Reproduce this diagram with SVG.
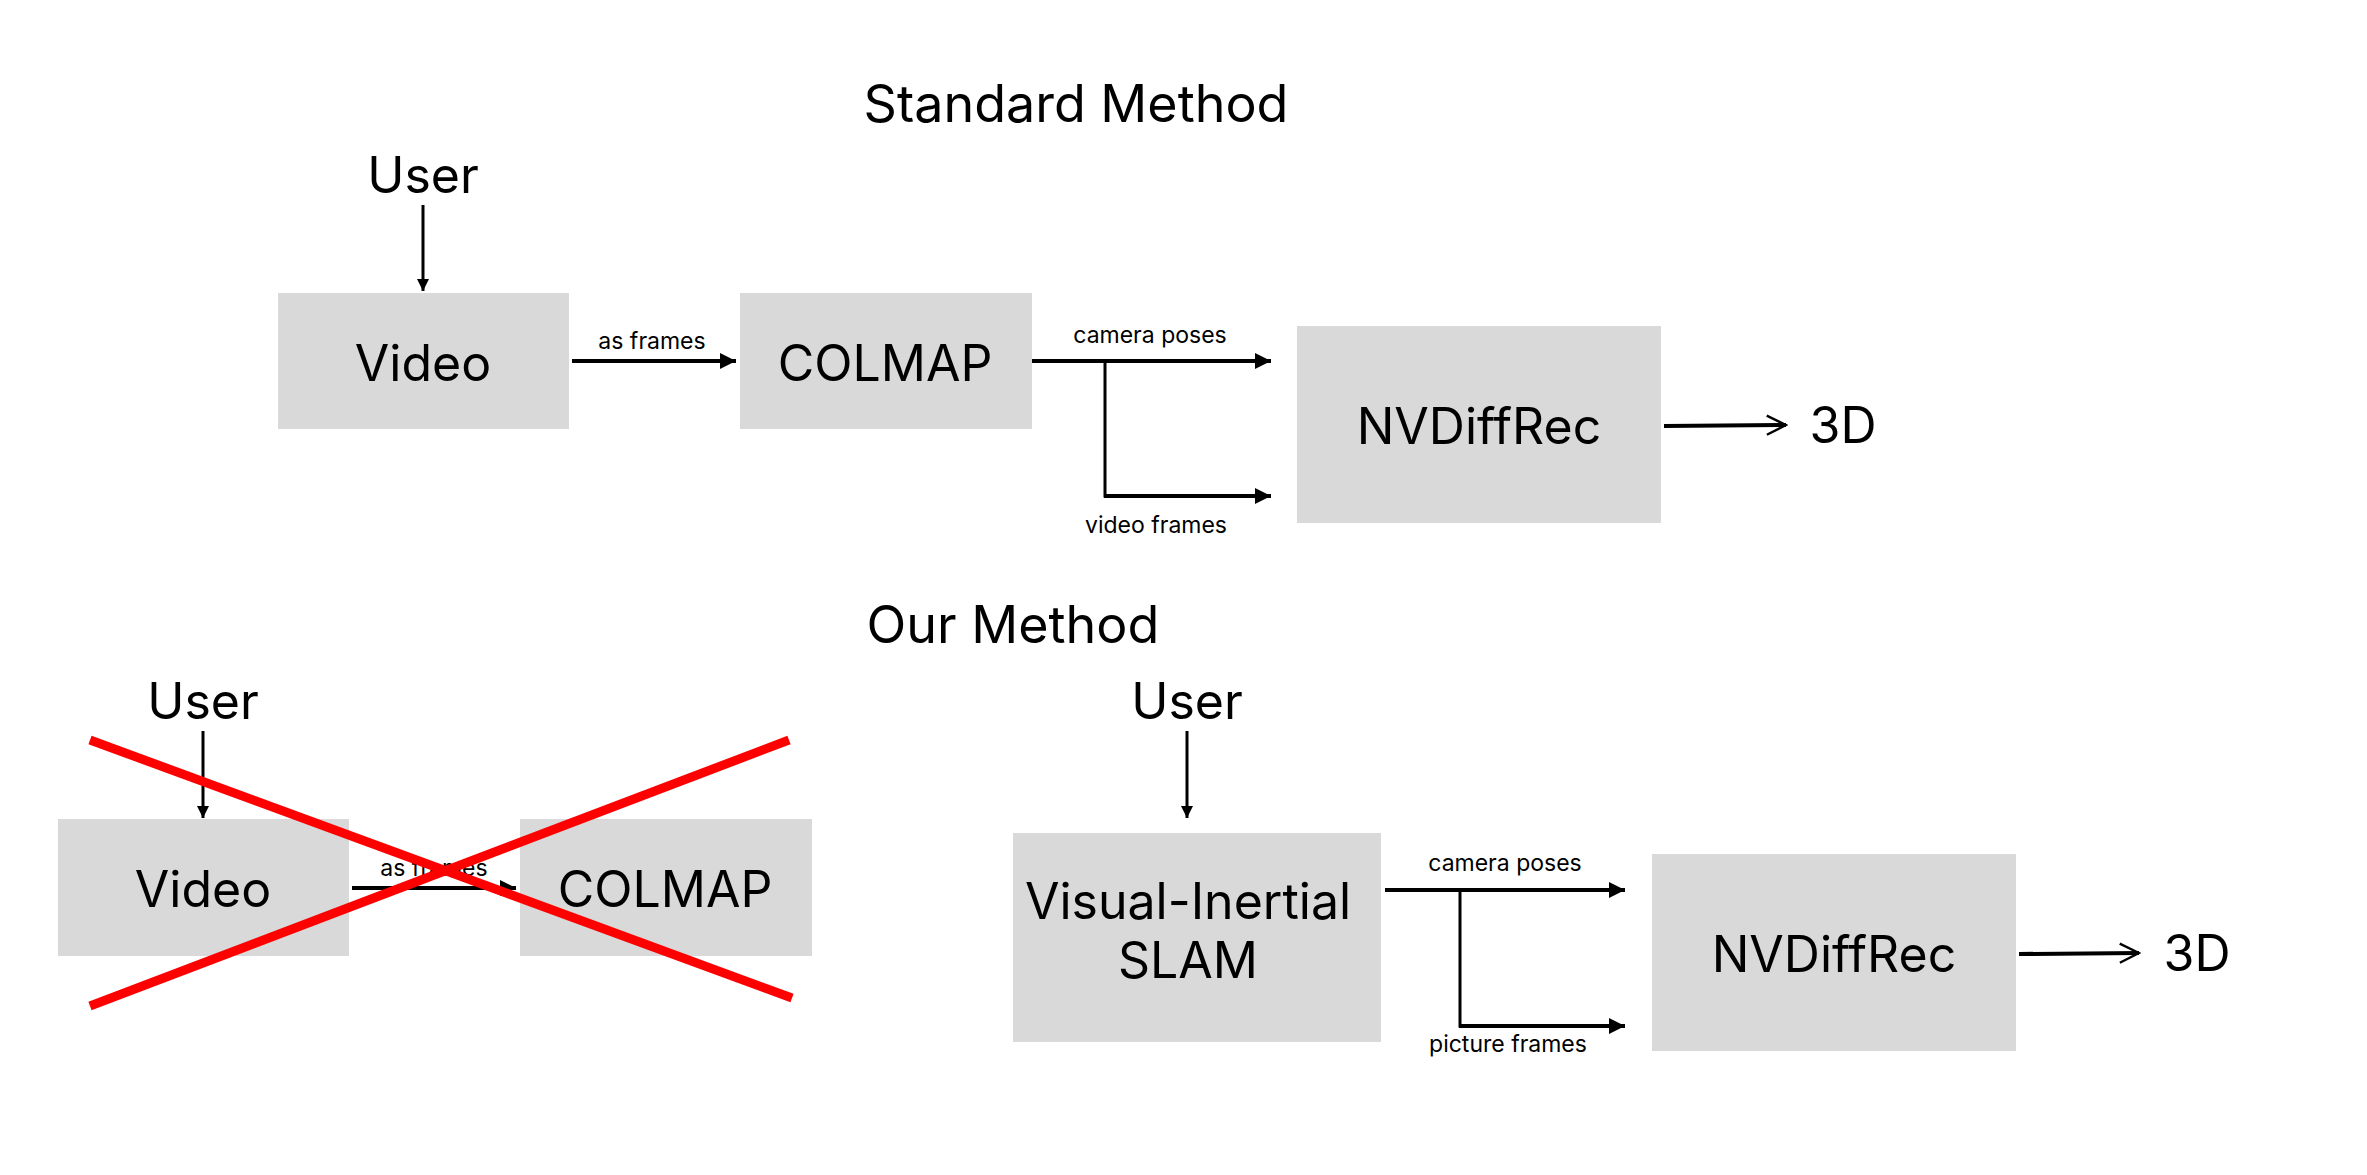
<svg xmlns="http://www.w3.org/2000/svg" width="2367" height="1175" viewBox="0 0 2367 1175">
<style>
.t{font-family:Inter,"Liberation Sans",sans-serif;fill:#000;text-anchor:middle;dominant-baseline:central}
.b{font-size:50px}.s{font-size:23px}
.box{fill:#d9d9d9}
.ln{stroke:#000;stroke-width:3;fill:none}
.th{stroke:#000;stroke-width:4;fill:none}
.x{stroke:#ff0000;stroke-width:9}
</style>
<defs>
<marker id="a" viewBox="0 0 10 10" refX="10" refY="5" markerWidth="4" markerHeight="4" orient="auto" markerUnits="strokeWidth"><path d="M0,0L10,5L0,10z" fill="#000"/></marker>
<marker id="o" viewBox="0 0 10 10" refX="9" refY="5" markerWidth="6" markerHeight="6" orient="auto" markerUnits="strokeWidth"><path d="M1,1L9,5L1,9" fill="none" stroke="#000" stroke-width="1"/></marker>
</defs>
<text class="t" x="1076" y="103" style="font-size:52px">Standard Method</text>
<text class="t" x="1013" y="624" style="font-size:52px">Our Method</text>
<g id="user1"><text class="t b" x="423" y="175">User</text></g>
<g id="video1"><rect class="box" x="278" y="293" width="291" height="136"/><text class="t b" x="423" y="363">Video</text></g>
<g id="colmap1"><rect class="box" x="740" y="293" width="292" height="136"/><text class="t b" x="885" y="363">COLMAP</text></g>
<g id="nv1"><rect class="box" x="1297" y="326" width="364" height="197"/><text class="t b" x="1479" y="426">NVDiffRec</text></g>
<g id="out1"><text class="t b" x="1843" y="425">3D</text></g>
<g id="user2"><text class="t b" x="203" y="701">User</text></g>
<g id="video2"><rect class="box" x="58" y="819" width="291" height="137"/><text class="t b" x="203" y="889">Video</text></g>
<g id="colmap2"><rect class="box" x="520" y="819" width="292" height="137"/><text class="t b" x="665" y="889">COLMAP</text></g>
<g id="user3"><text class="t b" x="1187" y="701">User</text></g>
<g id="slam"><rect class="box" x="1013" y="833" width="368" height="209"/><text class="t b" x="1188" y="901">Visual-Inertial</text><text class="t b" x="1188" y="960">SLAM</text></g>
<g id="nv2"><rect class="box" x="1652" y="854" width="364" height="197"/><text class="t b" x="1834" y="954">NVDiffRec</text></g>
<g id="out2"><text class="t b" x="2197" y="953">3D</text></g>
<g id="connectors">
<line class="ln" x1="423" y1="205" x2="423" y2="291" marker-end="url(#a)"/>
<line class="th" x1="572" y1="361" x2="736" y2="361" marker-end="url(#a)"/>
<text class="t s" x="652" y="341">as frames</text>
<line class="th" x1="1032" y1="361" x2="1271" y2="361" marker-end="url(#a)"/>
<polyline class="ln" points="1105,361 1105,496 1200,496"/>
<line class="th" x1="1104" y1="496" x2="1271" y2="496" marker-end="url(#a)"/>
<text class="t s" x="1150" y="335">camera poses</text>
<text class="t s" x="1156" y="525">video frames</text>
<line class="th" x1="1664" y1="426" x2="1786" y2="425" marker-end="url(#o)"/>
<line class="ln" x1="203" y1="731" x2="203" y2="818" marker-end="url(#a)"/>
<line class="th" x1="352" y1="888" x2="516" y2="888" marker-end="url(#a)"/>
<text class="t s" x="434" y="868">as frames</text>
<line class="ln" x1="1187" y1="731" x2="1187" y2="818" marker-end="url(#a)"/>
<line class="th" x1="1385" y1="890" x2="1625" y2="890" marker-end="url(#a)"/>
<polyline class="ln" points="1460,890 1460,1026 1500,1026"/>
<line class="th" x1="1459" y1="1026" x2="1625" y2="1026" marker-end="url(#a)"/>
<text class="t s" x="1505" y="863">camera poses</text>
<text class="t s" x="1508" y="1044">picture frames</text>
<line class="th" x1="2019" y1="954" x2="2139" y2="953" marker-end="url(#o)"/>
</g>
<g id="cross">
<line class="x" x1="90" y1="740" x2="792" y2="998"/>
<line class="x" x1="90" y1="1006" x2="789" y2="740"/>
</g>
</svg>
